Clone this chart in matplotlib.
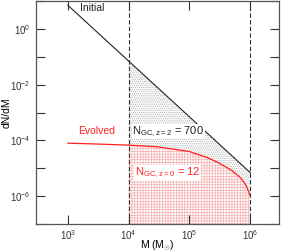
import numpy as np
import matplotlib.pyplot as plt

plt.rcParams['font.family'] = ['Liberation Sans', 'DejaVu Sans']
plt.rcParams['mathtext.fontset'] = 'custom'
plt.rcParams['mathtext.rm'] = 'Liberation Sans'
plt.rcParams['mathtext.it'] = 'Liberation Sans:italic'
plt.rcParams['hatch.linewidth'] = 0.5

# initial mass function (power law)
m_init = [1e3, 1e4, 1e5, 1e6]
dn_init = [7.0, 7.0e-2, 7.0e-4, 7.0e-6]

# evolved mass function
m_evol = [1e3, 3e3, 1e4, 3e4, 1e5, 2e5, 3e5, 5e5, 7e5, 8.5e5, 1e6]
log_evol = [-4.10, -4.13, -4.17, -4.23, -4.40, -4.62, -4.80, -5.08, -5.35, -5.60, -5.98]
dn_evol = [10 ** v for v in log_evol]

m_lo, m_hi = 1e4, 1e6
n_initial = 700
n_final = 12

fig = plt.figure(figsize=(2.95, 2.52), dpi=100)
ax = fig.add_axes([0.122, 0.111, 0.824, 0.885])
ax.set_xscale('log')
ax.set_yscale('log')

# shaded regions between the two dashed limits
mm = np.logspace(4, 6, 200)
fi = np.exp(np.interp(np.log(mm), np.log(m_init), np.log(dn_init)))
fe = np.exp(np.interp(np.log(mm), np.log(m_evol), np.log(dn_evol)))
ax.fill_between(mm, 1e-8, fi, facecolor='none', edgecolor='#a8a8a8',
                hatch='........', linewidth=0)
ax.fill_between(mm, 1e-8, fe, facecolor='white', edgecolor='#f7b0b0',
                hatch='++++++', linewidth=0)

ax.plot(m_init, dn_init, color='#222222', lw=0.8)
ax.plot(m_evol, dn_evol, color='#ff2020', lw=0.9)

ax.axvline(m_lo, color='#333333', ls=(0, (4, 2)), lw=0.8)
ax.axvline(m_hi, color='#333333', ls=(0, (4, 2)), lw=0.8)

ax.text(10 ** 3.4, 10 ** 0.75, 'Initial', fontsize=7.5, ha='center', va='center',
        color='#222222')
ax.text(10 ** 3.48, 10 ** -3.68, 'Evolved', fontsize=7.5, ha='center', va='center',
        color='#ff2020')
ax.text(10 ** 4.06, 10 ** -3.68, r'N$_{\rm GC,z=2}$ = %d' % n_initial, fontsize=8,
        ha='left', va='center', color='#222222',
        bbox=dict(facecolor='white', edgecolor='none', pad=0.5))
ax.text(10 ** 4.1, 10 ** -5.18, r'N$_{\rm GC,z=0}$ = %d' % n_final, fontsize=8,
        ha='left', va='center', color='#ff2020',
        bbox=dict(facecolor='white', edgecolor='none', pad=0.5))

ax.set_xlim(10 ** 2.475, 10 ** 6.475)
ax.set_ylim(1e-7, 1e1)
ax.set_xticks([1e3, 1e4, 1e5, 1e6])
ax.set_xticklabels([r'10$^{%d}$' % k for k in range(3, 7)])
ax.set_yticks([10.0 ** k for k in range(-7, 2)])
ax.set_yticklabels([r'10$^{%d}$' % k if k % 2 == 0 else '' for k in range(-7, 2)])
ax.minorticks_off()
ax.tick_params(direction='in', length=6.5, width=0.8, top=True, right=True,
               labelsize=7, colors='#333333')
ax.tick_params(axis='x', pad=3)
ax.tick_params(axis='y', pad=4)

for s in ax.spines.values():
    s.set_color('#555555')
    s.set_linewidth(0.9)

ax.set_xlabel(r'M (M$_{\odot}$)', fontsize=7.5)
ax.set_ylabel('dN/dM', fontsize=7.5)
ax.xaxis.set_label_coords(0.5, -0.068)
ax.yaxis.set_label_coords(-0.1, 0.5)

fig.savefig('out.png', dpi=100)
